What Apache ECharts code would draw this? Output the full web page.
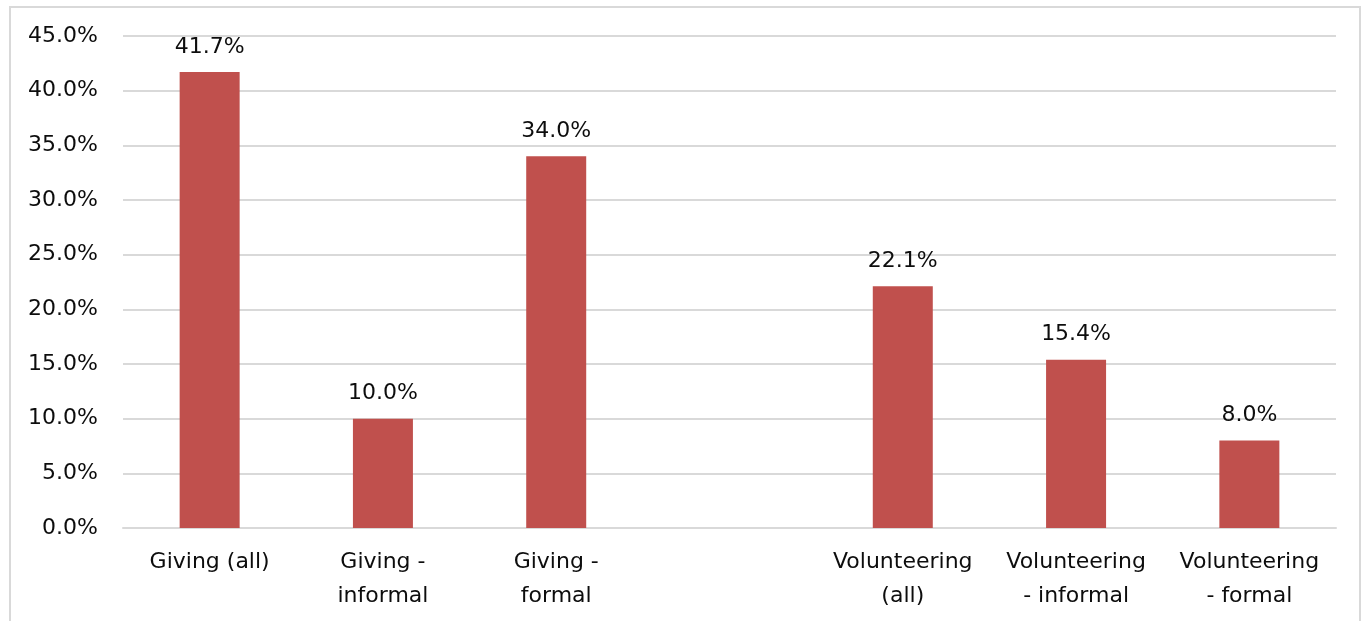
<!DOCTYPE html>
<html>
<head>
<meta charset="utf-8">
<script src="https://cdn.jsdelivr.net/npm/echarts@6/dist/echarts.min.js"></script>
<style>
  html, body { margin: 0; padding: 0; background: #fff; }
  #frame { position: absolute; left: 9px; top: 6px; width: 1352px; height: 640px; border: 2px solid #d9d9d9; box-sizing: border-box; }
  #chart { position: absolute; left: 0; top: 0; width: 1370px; height: 621px; }
</style>
</head>
<body>
<div id="frame"></div>
<div id="chart"></div>
<script>
// Share of respondents by activity (an empty slot separates the two groups)
const categories = [
  'Giving (all)',
  'Giving -\ninformal',
  'Giving -\nformal',
  '',
  'Volunteering\n(all)',
  'Volunteering\n- informal',
  'Volunteering\n- formal'
];
const shares = [41.7, 10.0, 34.0, null, 22.1, 15.4, 8.0];
const yTicks = { min: 0, max: 45, step: 5 };

const FONT = 'DejaVu Sans';
const chart = echarts.init(document.getElementById('chart'), null, { renderer: 'canvas' });
chart.setOption({
  animation: false,
  backgroundColor: 'transparent',
  grid: { left: 123, right: 34, top: 36, bottom: 93, containLabel: false },
  xAxis: {
    type: 'category',
    data: categories,
    axisLine: { show: true, lineStyle: { color: '#d9d9d9', width: 2 } },
    axisTick: { show: false },
    axisLabel: {
      interval: 0,
      color: '#0d0d0d',
      fontFamily: FONT,
      fontSize: 22,
      lineHeight: 34,
      margin: 17
    }
  },
  yAxis: {
    type: 'value',
    min: yTicks.min,
    max: yTicks.max,
    interval: yTicks.step,
    axisLine: { show: false },
    axisTick: { show: false },
    splitLine: { lineStyle: { color: '#d9d9d9', width: 2 } },
    axisLabel: {
      color: '#0d0d0d',
      fontFamily: FONT,
      fontSize: 22,
      margin: 25,
      formatter: v => v.toFixed(1) + '%'
    }
  },
  series: [{
    type: 'bar',
    data: shares,
    barWidth: 60,
    itemStyle: { color: '#C0504D' },
    label: {
      show: true,
      position: 'top',
      distance: 14,
      color: '#0d0d0d',
      fontFamily: FONT,
      fontSize: 22,
      formatter: p => p.value.toFixed(1) + '%'
    }
  }]
});
</script>
</body>
</html>
